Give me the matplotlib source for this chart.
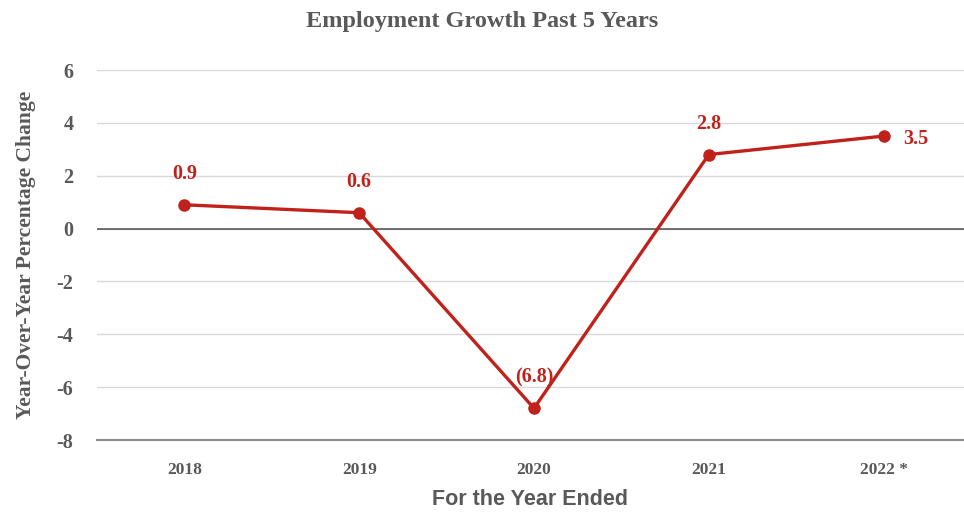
import matplotlib.pyplot as plt

years = ['2018', '2019', '2020', '2021', '2022 *']
growth = [0.9, 0.6, -6.8, 2.8, 3.5]
point_labels = ['0.9', '0.6', '(6.8)', '2.8', '3.5']
yticks = [6, 4, 2, 0, -2, -4, -6, -8]

red = '#C0221B'
gray = '#595959'
serif = ['Liberation Serif', 'DejaVu Serif']

plt.rcParams['axes.unicode_minus'] = False

fig = plt.figure(figsize=(9.64, 5.12), dpi=100)
ax = fig.add_axes([97 / 964, 72 / 512, 867 / 964, 370 / 512])

x = list(range(len(years)))
ax.plot(x, growth, color=red, lw=2.4, marker='o', ms=8, zorder=3)

for i, (v, lab) in enumerate(zip(growth, point_labels)):
    if i == len(years) - 1:
        ax.annotate(lab, (i, v), xytext=(23, -2), textcoords='offset points',
                    ha='center', va='center', color=red, fontsize=14.5,
                    fontweight='bold', family=serif)
    else:
        ax.annotate(lab, (i, v), xytext=(0, 22), textcoords='offset points',
                    ha='center', va='center', color=red, fontsize=14.5,
                    fontweight='bold', family=serif)

ax.set_xlim(-0.5, 4.46)
ax.set_ylim(-8, 6)
ax.set_yticks(yticks)
ax.set_xticks(x)
ax.set_xticklabels(years)
ax.grid(axis='y', color='#d9d9d9', lw=1)
ax.axhline(0, color='#595959', lw=1.2, zorder=2)
for s in ['top', 'right', 'left']:
    ax.spines[s].set_visible(False)
ax.spines['bottom'].set_color('#8c8c8c')
ax.spines['bottom'].set_linewidth(1.5)
ax.tick_params(length=0)
ax.tick_params(axis='x', pad=16)
ax.tick_params(axis='y', pad=17)
for t in ax.get_xticklabels():
    t.set_fontfamily(serif)
    t.set_fontweight('bold')
    t.set_fontsize(12.5)
    t.set_color(gray)
for t in ax.get_yticklabels():
    t.set_fontfamily(serif)
    t.set_fontweight('bold')
    t.set_fontsize(14.5)
    t.set_color(gray)

ax.set_ylabel('Year-Over-Year Percentage Change', family=serif, fontweight='bold',
              fontsize=15.5, color=gray, labelpad=15)
ax.set_xlabel('For the Year Ended', family=['Liberation Sans', 'DejaVu Sans'],
              fontweight='bold', fontsize=15.5, color=gray, labelpad=8)
fig.text(0.5, 1 - 21 / 512, 'Employment Growth Past 5 Years', ha='center', va='center',
         family=serif, fontweight='bold', fontsize=17.5, color=gray)

fig.savefig('out.png', dpi=100)
